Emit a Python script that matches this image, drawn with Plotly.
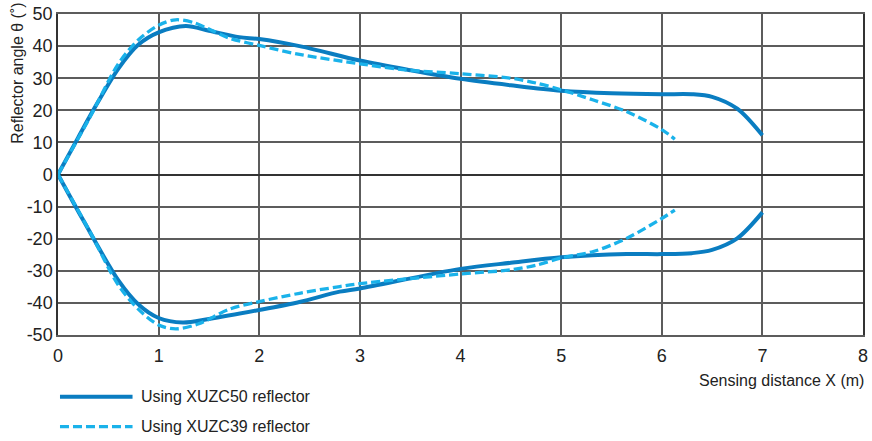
import plotly.graph_objects as go

# XUZC50 reflector (solid)
x50_up = [0, 0.2, 0.35, 0.6, 0.8, 1.0, 1.27, 1.5, 1.8, 2.0, 2.4, 3.0, 3.5, 4.0, 4.5, 5.0, 5.5, 6.0, 6.3, 6.5, 6.75, 7.0]
y50_up = [0, 11.5, 20, 33, 40.5, 44.3, 46.3, 44.8, 42.8, 42.2, 40, 35.5, 32.5, 29.8, 27.8, 26.1, 25.3, 25, 25, 24.2, 20.5, 12.2]
x50_lo = [0, 0.25, 0.6, 0.8, 1.0, 1.24, 1.5, 2.0, 2.4, 2.8, 3.0, 4.0, 4.5, 5.0, 5.65, 6.0, 6.3, 6.5, 6.75, 7.0]
y50_lo = [0, -14.2, -33, -40.5, -44.7, -46.1, -45, -42.2, -39.7, -36.5, -35.5, -29.4, -27.5, -25.8, -24.8, -24.8, -24.5, -23.5, -19.9, -11.8]

# XUZC39 reflector (dashed)
x39_up = [0, 0.32, 0.6, 0.8, 1.0, 1.17, 1.35, 1.5, 1.7, 2.0, 2.4, 3.0, 3.45, 4.0, 4.5, 4.75, 5.0, 5.32, 5.65, 6.0, 6.13]
y39_up = [0, 18, 34.5, 42, 46.5, 48.2, 47.3, 45.3, 42.5, 40.2, 37.4, 34.5, 32.6, 31.4, 30, 28.5, 26.4, 23.2, 19.6, 14, 11]
x39_lo = [0, 0.32, 0.6, 0.8, 1.0, 1.17, 1.4, 1.7, 2.0, 2.4, 2.8, 3.0, 4.0, 4.5, 4.76, 5.0, 5.32, 5.65, 6.0, 6.13]
y39_lo = [0, -18, -34.5, -42, -46.9, -48.1, -46.5, -42, -39.6, -37, -34.9, -34, -31, -29.7, -28.2, -26, -24, -19.9, -13.7, -11.1]

series_names = ["Using XUZC50 reflector", "Using XUZC39 reflector"]
x_ticks = [0, 1, 2, 3, 4, 5, 6, 7, 8]
y_ticks = [50, 40, 30, 20, 10, 0, -10, -20, -30, -40, -50]

C50 = "#0a7dc1"
C39 = "#1ab2ea"
FONT = "Liberation Sans, Arial, sans-serif"
TXT = "#222222"
GRID = "#5c5c5c"

fig = go.Figure()
line50 = dict(color=C50, width=4, shape="spline", smoothing=0.9)
line39 = dict(color=C39, width=3.3, dash="9px,4px", shape="spline", smoothing=0.9)
fig.add_trace(go.Scatter(x=x50_up, y=y50_up, mode="lines", line=line50, name=series_names[0], showlegend=False))
fig.add_trace(go.Scatter(x=x50_lo, y=y50_lo, mode="lines", line=line50, name=series_names[0], showlegend=False))
fig.add_trace(go.Scatter(x=x39_up, y=y39_up, mode="lines", line=line39, name=series_names[1], showlegend=False))
fig.add_trace(go.Scatter(x=x39_lo, y=y39_lo, mode="lines", line=line39, name=series_names[1], showlegend=False))

W, H = 872, 441
L, R, T, B = 58, 4, 13, 106
pw, ph = W - L - R, H - T - B

def px(xp):
    return (xp - L) / pw

def py(yp):
    return (H - B - yp) / ph

fig.update_layout(
    width=W, height=H,
    margin=dict(l=L, r=R, t=T, b=B),
    paper_bgcolor="white", plot_bgcolor="white",
    font=dict(family=FONT, color=TXT),
    showlegend=False,
    xaxis=dict(range=[0, 8], tickvals=x_ticks, ticktext=[str(v) for v in x_ticks],
               showgrid=True, gridcolor=GRID, gridwidth=1.5,
               showline=True, linecolor=GRID, linewidth=1.5, mirror=True,
               zeroline=False, ticks="", tickfont=dict(size=18, color=TXT, family=FONT),
               ticklabelstandoff=4, ticklabeloverflow="allow"),
    yaxis=dict(range=[-50, 50], tickvals=y_ticks, ticktext=[str(v) for v in y_ticks],
               showgrid=True, gridcolor=GRID, gridwidth=1.5,
               showline=True, linecolor="#333333", linewidth=1.5, mirror=True,
               zeroline=True, zerolinecolor="#333333", zerolinewidth=1.5,
               ticks="", tickfont=dict(size=18, color=TXT, family=FONT),
               ticklabeloverflow="allow"),
)

# y-axis title (top-aligned, rotated)
fig.add_annotation(text="Reflector angle θ (˚)", textangle=-90, xref="paper", yref="paper",
                   x=px(17), y=py(0), xanchor="center", yanchor="top", showarrow=False,
                   font=dict(size=16, color=TXT, family=FONT))
# x-axis title (right-aligned)
fig.add_annotation(text="Sensing distance X (m)", xref="paper", yref="paper",
                   x=px(871), y=py(381), xanchor="right", yanchor="middle", showarrow=False,
                   font=dict(size=16, color=TXT, family=FONT))

# legend
for i, (name, col, dash, wd) in enumerate([(series_names[0], C50, "solid", 4),
                                          (series_names[1], C39, "9px,4px", 3.3)]):
    yy = 397 + 30 * i
    fig.add_shape(type="line", xref="paper", yref="paper",
                  x0=px(60), x1=px(133), y0=py(yy), y1=py(yy),
                  line=dict(color=col, width=wd, dash=dash))
    fig.add_annotation(text=name, xref="paper", yref="paper", x=px(139), y=py(yy),
                       xanchor="left", yanchor="middle", showarrow=False,
                       font=dict(size=16, color=TXT, family=FONT))

fig.write_html("out.html",
               config={"displayModeBar": False},
               post_script="document.body.style.margin='0';document.body.style.overflow='hidden';")
